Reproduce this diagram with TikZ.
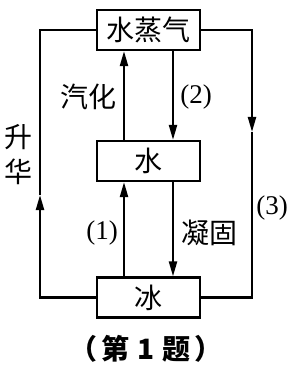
\documentclass[tikz,border=0pt]{standalone}
\usepackage{fontspec}
\setmainfont{Liberation Serif}
\newfontfamily\cjk{Noto Sans CJK SC}
\usetikzlibrary{arrows.meta}
\begin{document}
\begin{tikzpicture}[x=1pt,y=-1pt,
  line width=2.2pt,
  box/.style={draw,minimum width=103pt,minimum height=40pt,inner sep=0pt,font=\cjk\fontsize{28}{28}\selectfont},
  lbl/.style={inner sep=0pt,font=\cjk\fontsize{28}{28}\selectfont},
  num/.style={inner sep=0pt,font=\fontsize{27}{27}\selectfont},
  arr/.style={-{Triangle[length=15pt,width=8pt]}}]
\useasboundingbox (0,0) rectangle (289,366);
\node[box] (vap) at (148.5,30) {水蒸气};
\node[box] (wat) at (148.5,161) {水};
\node[box] (ice) at (148.5,297.5) {冰};
\coordinate (la) at (40,195);
\coordinate (ra) at (252,132);
\draw[arr] (ice.west) -| (la);
\draw (la) |- (vap.west);
\draw[arr] (vap.east) -| (ra);
\draw (ra) |- (ice.east);
\draw[arr] ([xshift=-24.5pt]wat.north) -- ([xshift=-24.5pt]vap.south);
\draw[arr] ([xshift=24.5pt]vap.south) -- ([xshift=24.5pt]wat.north);
\draw[arr] ([xshift=-24.5pt]ice.north) -- ([xshift=-24.5pt]wat.south);
\draw[arr] ([xshift=24.5pt]wat.south) -- ([xshift=24.5pt]ice.north);
\node[lbl] (qh) at (88,97) {汽化};
\node[num] (n2) at (196,97) {(2)};
\node[lbl] (sh1) at (19,137) {升};
\node[lbl] (sh2) at (19,172) {华};
\node[num] (n1) at (102,233) {(1)};
\node[lbl] (ng) at (209,233) {凝固};
\node[num] (n3) at (272,208) {(3)};
\node[lbl,font=\cjk\bfseries\fontsize{28}{28}\selectfont] (cap) at (146,349) {（\hspace{4pt}第\hspace{8pt}1\hspace{8pt}题\hspace{4pt}）};
\end{tikzpicture}
\end{document}
